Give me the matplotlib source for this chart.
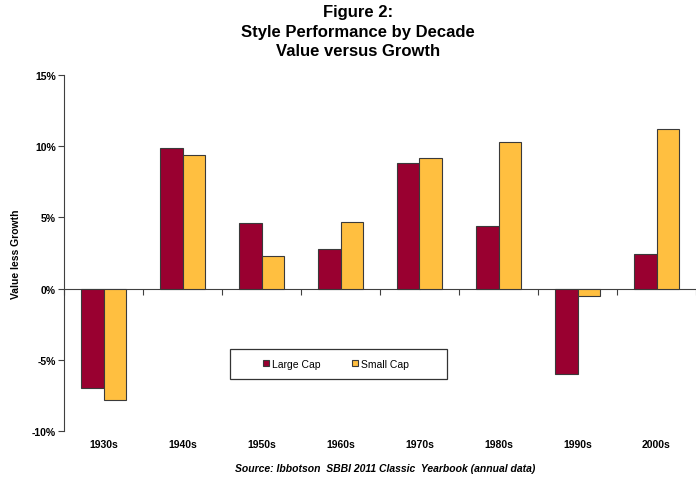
import matplotlib
matplotlib.use("Agg")
import matplotlib.pyplot as plt
from matplotlib.patches import Rectangle
import numpy as np

plt.rcParams['font.family'] = ['Liberation Sans', 'DejaVu Sans']

decades = ["1930s", "1940s", "1950s", "1960s", "1970s", "1980s", "1990s", "2000s"]
large_cap = [-7.0, 9.9, 4.6, 2.8, 8.8, 4.4, -6.0, 2.4]
small_cap = [-7.8, 9.4, 2.3, 4.7, 9.2, 10.3, -0.5, 11.2]
y_ticks = [-10, -5, 0, 5, 10, 15]
y_tick_labels = ["-10%", "-5%", "0%", "5%", "10%", "15%"]

LARGE_COLOR = "#990030"
SMALL_COLOR = "#FFBF40"
EDGE = "#3a3a3a"

fig = plt.figure(figsize=(6.96, 4.81), dpi=100)
W, H = 696, 481
ax = fig.add_axes([64 / W, 1 - 432 / H, (696 - 64) / W, (432 - 76) / H])

x = np.arange(len(decades))
bw = 0.29
ax.bar(x - bw / 2, large_cap, bw, color=LARGE_COLOR, edgecolor=EDGE,
       linewidth=0.8, label="Large Cap", zorder=2)
ax.bar(x + bw / 2, small_cap, bw, color=SMALL_COLOR, edgecolor=EDGE,
       linewidth=0.8, label="Small Cap", zorder=2)

ax.set_xlim(-0.5, len(decades) - 0.5)
ax.set_ylim(y_ticks[0], y_ticks[-1])

# y axis
ax.set_yticks(y_ticks)
ax.set_yticklabels(y_tick_labels, fontsize=7.5, fontweight="bold")
ax.tick_params(axis="y", direction="out", length=4, width=0.8, color="#404040", pad=2)
ax.set_ylabel("Value less Growth", fontsize=7.5, fontweight="bold", labelpad=7.5)

# category labels along the bottom edge
ax.set_xticks(x)
ax.set_xticklabels(decades, fontsize=7.5, fontweight="bold")
ax.tick_params(axis="x", length=0, pad=6)

for s in ["top", "right", "bottom"]:
    ax.spines[s].set_visible(False)
ax.spines["left"].set_color("#404040")
ax.spines["left"].set_linewidth(0.8)

# zero line with category-boundary ticks
zero_pos = (0 - y_ticks[0]) / (y_ticks[-1] - y_ticks[0])
sec = ax.secondary_xaxis(zero_pos)
sec.set_xticks(np.arange(len(decades) + 1) - 0.5)
sec.set_xticklabels([])
sec.tick_params(direction="out", length=4, width=0.8, color="#404040")
sec.spines["bottom"].set_color("#404040")
sec.spines["bottom"].set_linewidth(0.8)

# legend with a plain rectangular frame
lx0, lx1, ly0, ly1 = 230, 447, 350, 380
ax_x = lambda px: (px - 64) / (696 - 64)
ax_y = lambda py: (432 - py) / (432 - 76)
ax.add_patch(Rectangle((ax_x(lx0), ax_y(ly1)), ax_x(lx1) - ax_x(lx0), ax_y(ly0) - ax_y(ly1),
                       transform=ax.transAxes, fill=True, facecolor="white",
                       edgecolor="#333333", linewidth=0.9, zorder=3))
leg = ax.legend(loc="center", bbox_to_anchor=(ax_x(336), ax_y(365)), ncol=2,
                frameon=False, fontsize=7.5, handlelength=0.55, handleheight=0.55,
                handletextpad=0.3, columnspacing=3.0, borderaxespad=0)
leg.set_zorder(4)

fig.text(358 / W, 1 - 13 / H, "Figure 2:", ha="center", va="center",
         fontsize=12, fontweight="bold")
fig.text(358 / W, 1 - 33 / H, "Style Performance by Decade", ha="center", va="center",
         fontsize=12, fontweight="bold")
fig.text(358 / W, 1 - 52 / H, "Value versus Growth", ha="center", va="center",
         fontsize=12, fontweight="bold")

fig.text(385 / W, 1 - 469 / H, "Source: Ibbotson  SBBI 2011 Classic  Yearbook (annual data)",
         ha="center", va="center", fontsize=7.5, fontweight="bold", fontstyle="italic")

fig.savefig("out.png", dpi=100)
